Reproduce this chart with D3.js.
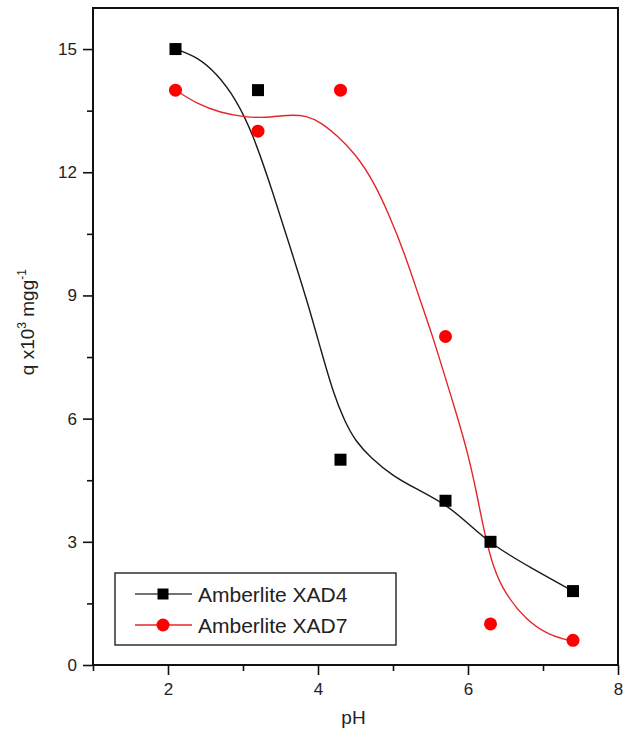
<!DOCTYPE html>
<html>
<head>
<meta charset="utf-8">
<script src="https://cdn.jsdelivr.net/npm/d3@7"></script>
<style>
  body { margin: 0; background: #fff; }
  text { font-family: "Liberation Sans", Arial, sans-serif; fill: #222; }
</style>
</head>
<body>
<div id="chart"></div>
<script>
// measured points
var ph = [2.1, 3.2, 4.3, 5.7, 6.3, 7.4];
var xad4 = [15, 14, 5, 4, 3, 1.8];
var xad7 = [14, 13, 14, 8, 1, 0.6];

// fitted curves
var fit4Ph = [2.1, 2.4, 2.65, 2.9, 3.13, 3.4, 3.65, 3.85, 4.05, 4.2, 4.35, 4.5, 4.7, 5.0, 5.3, 5.7, 6.0, 6.3, 6.85, 7.4];
var fit4Q  = [15, 14.8, 14.4, 13.8, 12.95, 11.5, 10.05, 8.9, 7.6, 6.65, 5.95, 5.45, 5.05, 4.6, 4.3, 3.92, 3.45, 2.95, 2.35, 1.8];
var fit7Ph = [2.1, 2.4, 2.7, 3.0, 3.3, 3.6, 3.85, 4.05, 4.25, 4.5, 4.75, 4.95, 5.15, 5.35, 5.53, 5.68, 5.85, 6.0, 6.12, 6.22, 6.34, 6.49, 6.77, 7.08, 7.4];
var fit7Q  = [14.0, 13.65, 13.45, 13.35, 13.32, 13.4, 13.38, 13.2, 12.9, 12.45, 11.75, 10.95, 10.05, 8.95, 8.0, 7.1, 6.1, 5.15, 4.15, 3.2, 2.35, 1.75, 1.1, 0.72, 0.58];

var xMajor = [2, 4, 6, 8];
var xMinor = [1, 3, 5, 7];
var yMajor = [0, 3, 6, 9, 12, 15];
var yMinor = [1.5, 4.5, 7.5, 10.5, 13.5];

var legendNames = ["Amberlite XAD4", "Amberlite XAD7"];

var margin = {top: 8, right: 5, bottom: 66, left: 93},
    width = 623 - margin.left - margin.right,
    height = 731 - margin.top - margin.bottom;

var svg = d3.select("#chart")
    .append("svg")
    .attr("width", 623)
    .attr("height", 731)
    .append("g")
    .attr("transform", "translate(" + margin.left + "," + margin.top + ")");

var x = d3.scaleLinear().domain([1, 8]).range([0, width]);
var y = d3.scaleLinear().domain([0, 16]).range([height, 0]);

// frame
svg.append("rect")
    .attr("x", 0).attr("y", 0)
    .attr("width", width).attr("height", height)
    .style("fill", "none")
    .style("stroke", "#111")
    .style("stroke-width", 2);

// X axis
var xAxis = svg.append("g")
    .attr("transform", "translate(0," + height + ")");
xAxis.call(d3.axisBottom(x).tickValues(xMajor).tickSize(10).tickPadding(8).tickFormat(d3.format("d")));
xAxis.append("g").call(d3.axisBottom(x).tickValues(xMinor).tickSize(6).tickFormat(""));
xAxis.selectAll(".domain").remove();
xAxis.selectAll("line").style("stroke", "#111").style("stroke-width", 1.6);
xAxis.selectAll("text").style("font-size", "17px").style("fill", "#222")
    .style("font-family", "'Liberation Sans', Arial, sans-serif");

// Y axis
var yAxis = svg.append("g");
yAxis.call(d3.axisLeft(y).tickValues(yMajor).tickSize(10).tickPadding(6).tickFormat(d3.format("d")));
yAxis.append("g").call(d3.axisLeft(y).tickValues(yMinor).tickSize(6).tickFormat(""));
yAxis.selectAll(".domain").remove();
yAxis.selectAll("line").style("stroke", "#111").style("stroke-width", 1.6);
yAxis.selectAll("text").style("font-size", "17px").style("fill", "#222")
    .style("font-family", "'Liberation Sans', Arial, sans-serif");

// axis titles
svg.append("text")
    .attr("x", width / 2 - 2)
    .attr("y", height + 59)
    .attr("text-anchor", "middle")
    .style("font-size", "19px")
    .text("pH");

var ylab = svg.append("text")
    .attr("transform", "translate(" + (-59) + "," + (y(8.35)) + ") rotate(-90)")
    .attr("text-anchor", "middle")
    .style("font-size", "19px");
ylab.append("tspan").text("q x10");
ylab.append("tspan").attr("dy", -8).style("font-size", "12px").text("3");
ylab.append("tspan").attr("dy", 8).text(" mgg");
ylab.append("tspan").attr("dy", -8).style("font-size", "12px").text("-1");

// fitted curves
var line = d3.line()
    .x(function(d) { return x(d[0]); })
    .y(function(d) { return y(d[1]); })
    .curve(d3.curveBasis);

svg.append("path")
    .datum(d3.zip(fit4Ph, fit4Q))
    .attr("d", line)
    .style("fill", "none")
    .style("stroke", "#1a1a1a")
    .style("stroke-width", 1.4);

svg.append("path")
    .datum(d3.zip(fit7Ph, fit7Q))
    .attr("d", line)
    .style("fill", "none")
    .style("stroke", "#e3262b")
    .style("stroke-width", 1.4);

// points
var sq = 12;
svg.append("g")
    .selectAll("rect")
    .data(d3.zip(ph, xad4))
    .enter()
    .append("rect")
    .attr("x", function(d) { return x(d[0]) - sq / 2; })
    .attr("y", function(d) { return y(d[1]) - sq / 2; })
    .attr("width", sq)
    .attr("height", sq)
    .style("fill", "#000");

svg.append("g")
    .selectAll("circle")
    .data(d3.zip(ph, xad7))
    .enter()
    .append("circle")
    .attr("cx", function(d) { return x(d[0]); })
    .attr("cy", function(d) { return y(d[1]); })
    .attr("r", 6.5)
    .style("fill", "#ff0000");

// legend
var lg = svg.append("g").attr("transform", "translate(" + (115 - margin.left) + "," + (573 - margin.top) + ")");
lg.append("rect")
    .attr("width", 281).attr("height", 72)
    .style("fill", "#fff")
    .style("stroke", "#222")
    .style("stroke-width", 1.4);

var rows = lg.selectAll(".row")
    .data(legendNames)
    .enter()
    .append("g")
    .attr("class", "row")
    .attr("transform", function(d, i) { return "translate(0," + (21 + i * 31) + ")"; });

rows.append("line")
    .attr("x1", 20).attr("x2", 77)
    .style("stroke", function(d, i) { return i == 0 ? "#444" : "#e3262b"; })
    .style("stroke-width", 1.4);

rows.filter(function(d, i) { return i == 0; })
    .append("rect")
    .attr("x", 48 - 5.5).attr("y", -5.5)
    .attr("width", 11).attr("height", 11)
    .style("fill", "#000");

rows.filter(function(d, i) { return i == 1; })
    .append("circle")
    .attr("cx", 48).attr("cy", 0).attr("r", 6.5)
    .style("fill", "#ff0000");

rows.append("text")
    .attr("x", 83)
    .attr("y", 7.5)
    .style("font-size", "21px")
    .text(function(d) { return d; });
</script>
</body>
</html>
